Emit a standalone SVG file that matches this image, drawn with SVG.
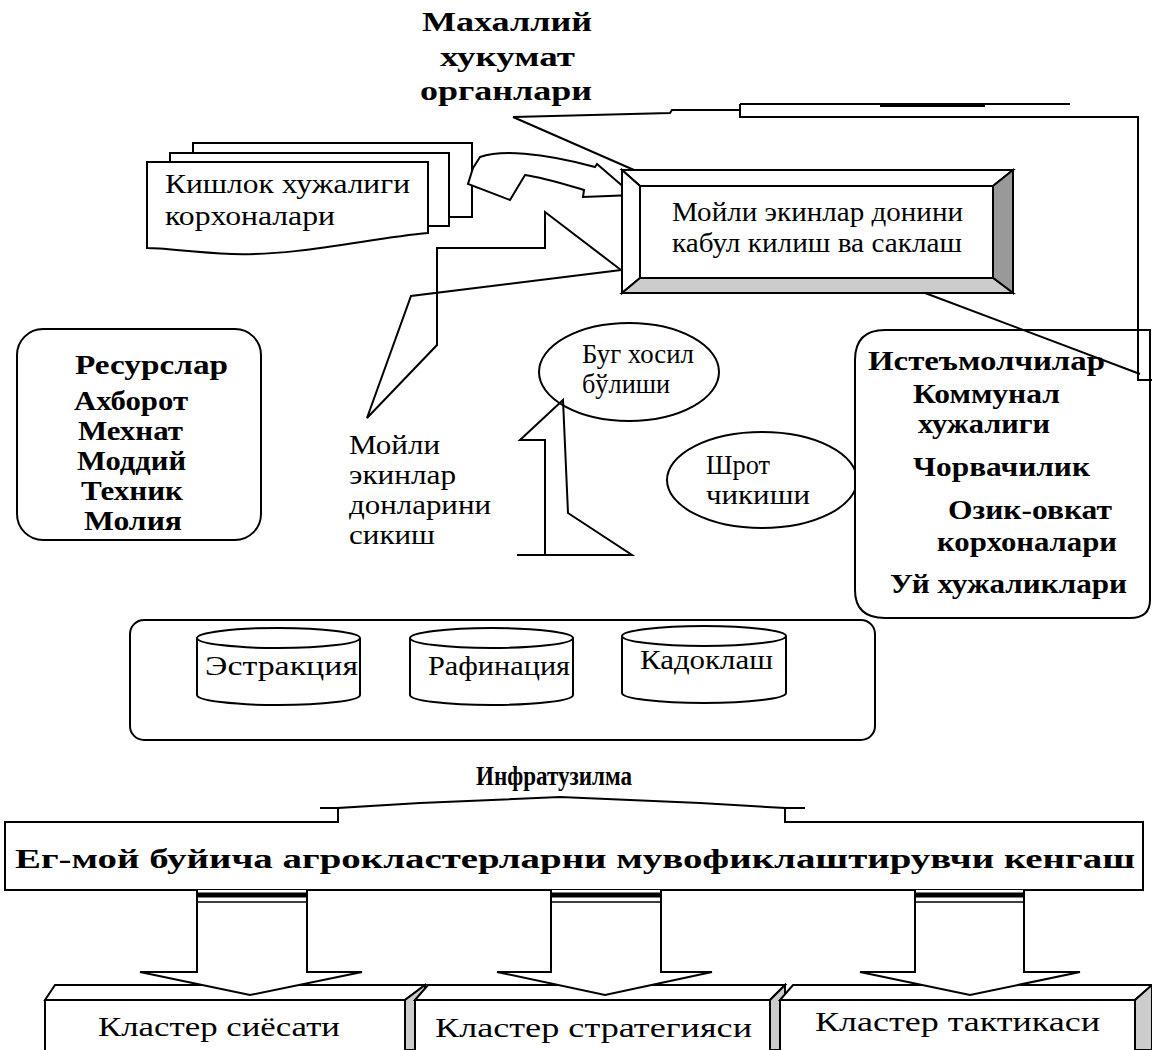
<svg xmlns="http://www.w3.org/2000/svg" width="1152" height="1050" viewBox="0 0 1152 1050">
<style>
.s{fill:#fff;stroke:#000;stroke-width:2}
.l{fill:none;stroke:#000;stroke-width:2}
.t{font-family:"Liberation Serif","Times New Roman",serif;font-size:27px;fill:#000}
.b{font-family:"Liberation Serif","Times New Roman",serif;font-size:27px;font-weight:bold;fill:#000}
</style>
<rect width="1152" height="1050" fill="#fff"/>
<g id="title">
<text class="b" font-size="29" x="422" y="31" textLength="170" lengthAdjust="spacingAndGlyphs">Махаллий</text>
<text class="b" font-size="29" x="440" y="66" textLength="135" lengthAdjust="spacingAndGlyphs">хукумат</text>
<text class="b" font-size="29" x="420" y="100" textLength="172" lengthAdjust="spacingAndGlyphs">органлари</text>
</g>
<g id="farms">
<path class="s" d="M193,143 H472 V217 H193 Z"/>
<path class="s" d="M170,153 H449 V226 H170 Z"/>
<path class="s" d="M147,162 H428 V233 C370,238 300,256 232,254 C190,252 165,248 147,248 Z"/>
<text class="t" x="165" y="193" textLength="245" lengthAdjust="spacingAndGlyphs">Кишлок хужалиги</text>
<text class="t" x="165" y="225" textLength="170" lengthAdjust="spacingAndGlyphs">корхоналари</text>
</g>
<g id="resources">
<rect class="s" x="17" y="329" width="244" height="211" rx="26"/>
<text class="b" x="75" y="374" textLength="153" lengthAdjust="spacingAndGlyphs">Ресурслар</text>
<text class="b" x="74" y="410" textLength="114" lengthAdjust="spacingAndGlyphs">Ахборот</text>
<text class="b" x="78" y="440" textLength="105" lengthAdjust="spacingAndGlyphs">Мехнат</text>
<text class="b" x="77" y="470" textLength="109" lengthAdjust="spacingAndGlyphs">Моддий</text>
<text class="b" x="81" y="500" textLength="102" lengthAdjust="spacingAndGlyphs">Техник</text>
<text class="b" x="84" y="530" textLength="98" lengthAdjust="spacingAndGlyphs">Молия</text>
</g>
<g id="pressing">
<text class="t" x="349" y="454" textLength="91" lengthAdjust="spacingAndGlyphs">Мойли</text>
<text class="t" x="349" y="484" textLength="107" lengthAdjust="spacingAndGlyphs">экинлар</text>
<text class="t" x="349" y="514" textLength="142" lengthAdjust="spacingAndGlyphs">донларини</text>
<text class="t" x="349" y="544" textLength="86" lengthAdjust="spacingAndGlyphs">сикиш</text>
</g>
<g id="steam">
<ellipse class="s" cx="629" cy="372" rx="90" ry="49"/>
<text class="t" font-size="26" x="582" y="363" textLength="112" lengthAdjust="spacingAndGlyphs">Буг хосил</text>
<text class="t" font-size="26" x="582" y="393" textLength="88" lengthAdjust="spacingAndGlyphs">бўлиши</text>
</g>
<g id="meal">
<ellipse class="s" cx="762" cy="480" rx="95" ry="48"/>
<text class="t" x="706" y="474" textLength="64" lengthAdjust="spacingAndGlyphs">Шрот</text>
<text class="t" x="706" y="504" textLength="104" lengthAdjust="spacingAndGlyphs">чикиши</text>
</g>
<g id="consumers">
<path class="s" d="M885,330 H1150 V600 Q1150,618 1130,618 H885 Q855,618 855,590 V360 Q855,330 885,330 Z"/>
<text class="b" x="868" y="370" textLength="237" lengthAdjust="spacingAndGlyphs">Истеъмолчилар</text>
<text class="b" x="913" y="403" textLength="147" lengthAdjust="spacingAndGlyphs">Коммунал</text>
<text class="b" x="918" y="433" textLength="132" lengthAdjust="spacingAndGlyphs">хужалиги</text>
<text class="b" x="913" y="476" textLength="177" lengthAdjust="spacingAndGlyphs">Чорвачилик</text>
<text class="b" x="948" y="519" textLength="164" lengthAdjust="spacingAndGlyphs">Озик-овкат</text>
<text class="b" x="937" y="551" textLength="180" lengthAdjust="spacingAndGlyphs">корхоналари</text>
<text class="b" x="890" y="593" textLength="237" lengthAdjust="spacingAndGlyphs">Уй хужаликлари</text>
</g>
<g id="infrastructure">
<rect class="s" x="130" y="620" width="745" height="120" rx="14"/>
<path class="s" d="M197,638 A81,10 0 0 1 360,638 V695 A81,10 0 0 1 197,695 Z"/>
<path class="l" d="M197,638 A81,10 0 0 0 360,638"/>
<path class="s" d="M410,638 A81,10 0 0 1 573,638 V695 A81,10 0 0 1 410,695 Z"/>
<path class="l" d="M410,638 A81,10 0 0 0 573,638"/>
<path class="s" d="M622,636 A82,10 0 0 1 786,636 V693 A82,10 0 0 1 622,693 Z"/>
<path class="l" d="M622,636 A82,10 0 0 0 786,636"/>
<text class="t" x="205" y="675" textLength="153" lengthAdjust="spacingAndGlyphs">Эстракция</text>
<text class="t" x="428" y="675" textLength="142" lengthAdjust="spacingAndGlyphs">Рафинация</text>
<text class="t" x="640" y="669" textLength="133" lengthAdjust="spacingAndGlyphs">Кадоклаш</text>
<text class="b" font-size="29" x="476" y="785" textLength="156" lengthAdjust="spacingAndGlyphs">Инфратузилма</text>
</g>
<g id="council">
<path class="s" d="M5,822 H338 V808 L420,803 L560,797 L700,803 L785,808 V822 H1143 V890 H5 Z"/>
<line class="l" x1="320" y1="808" x2="338" y2="808"/>
<line class="l" x1="785" y1="808" x2="805" y2="808"/>
<text class="b" font-size="32" x="15" y="868" textLength="1120" lengthAdjust="spacingAndGlyphs">Ег-мой буйича агрокластерларни мувофиклаштирувчи кенгаш</text>
</g>
<g id="policy">
<polygon class="s" points="45,1000 55,985 425,985 405,1000"/>
<polygon points="405,1000 425,985 425,1050 405,1050" fill="#ccc" stroke="#000" stroke-width="2"/>
<rect class="s" x="45" y="1000" width="360" height="52"/>
<text class="t" font-size="33" x="98" y="1036" textLength="242" lengthAdjust="spacingAndGlyphs">Кластер сиёсати</text>
</g>
<g id="strategy">
<polygon class="s" points="415,1000 428,985 785,985 770,1000"/>
<polygon points="770,1000 785,985 785,1050 770,1050" fill="#ccc" stroke="#000" stroke-width="2"/>
<rect class="s" x="415" y="1000" width="355" height="52"/>
<text class="t" font-size="33" x="435" y="1037" textLength="317" lengthAdjust="spacingAndGlyphs">Кластер стратегияси</text>
</g>
<g id="tactics">
<polygon class="s" points="780,1000 793,985 1152,985 1135,1000"/>
<polygon points="1135,1000 1152,985 1152,1050 1135,1050" fill="#ccc" stroke="#000" stroke-width="2"/>
<rect class="s" x="780" y="1000" width="355" height="52"/>
<text class="t" font-size="33" x="815" y="1031" textLength="285" lengthAdjust="spacingAndGlyphs">Кластер тактикаси</text>
</g>
<g id="connectors">
<polyline class="l" points="513,117 670,113 672,110 740,110"/>
<line class="l" x1="513" y1="117" x2="634" y2="170"/>
<polyline class="l" points="740,104 1070,104"/>
<line x1="880" y1="106" x2="985" y2="106" stroke="#000" stroke-width="2"/>
<polyline class="l" points="740,104 740,117 1138,117 1138,380 1152,380"/>
<line class="l" x1="925" y1="293" x2="1140" y2="374"/>
<path class="s" d="M473,168 L480,157 C500,150 540,152 595,167 L597,164 L633,195 L583,197 L584,190 C560,183 545,178 525,175 L510,200 L468,184 Z"/>
<path class="s" d="M545,212 L621,270 L411,296 L367,418 L437,345 L437,248 L545,248 Z"/>
<path class="l" d="M545,555 L545,440 L520,440 L563,400 L568,513 L632,555 L517,555"/>
<path class="s" d="M197,890 V972 H140 L250,995 L362,972 H307 V890"/>
<path class="s" d="M551,890 V972 H497 L605,995 L712,972 H661 V890"/>
<path class="s" d="M915,890 V972 H860 L970,995 L1080,972 H1024 V890"/>
<g stroke="#000">
<line x1="197" y1="895" x2="307" y2="895" stroke-width="5"/><line x1="197" y1="902" x2="307" y2="902" stroke-width="1.5"/>
<line x1="551" y1="895" x2="661" y2="895" stroke-width="5"/><line x1="551" y1="902" x2="661" y2="902" stroke-width="1.5"/>
<line x1="915" y1="895" x2="1024" y2="895" stroke-width="5"/><line x1="915" y1="902" x2="1024" y2="902" stroke-width="1.5"/>
</g>
</g>
<g id="storage">
<polygon points="622,170 1013,170 993,186 640,186" fill="#fff" stroke="#000" stroke-width="2"/>
<polygon points="622,170 640,186 640,278 622,293" fill="#fff" stroke="#000" stroke-width="2"/>
<polygon points="1013,170 1013,293 993,278 993,186" fill="#999" stroke="#000" stroke-width="2"/>
<polygon points="622,293 1013,293 993,278 640,278" fill="#ccc" stroke="#000" stroke-width="2"/>
<rect class="s" x="640" y="186" width="353" height="92"/>
<text class="t" x="672" y="221" textLength="291" lengthAdjust="spacingAndGlyphs">Мойли экинлар донини</text>
<text class="t" x="672" y="252" textLength="290" lengthAdjust="spacingAndGlyphs">кабул килиш ва саклаш</text>
</g>
</svg>
